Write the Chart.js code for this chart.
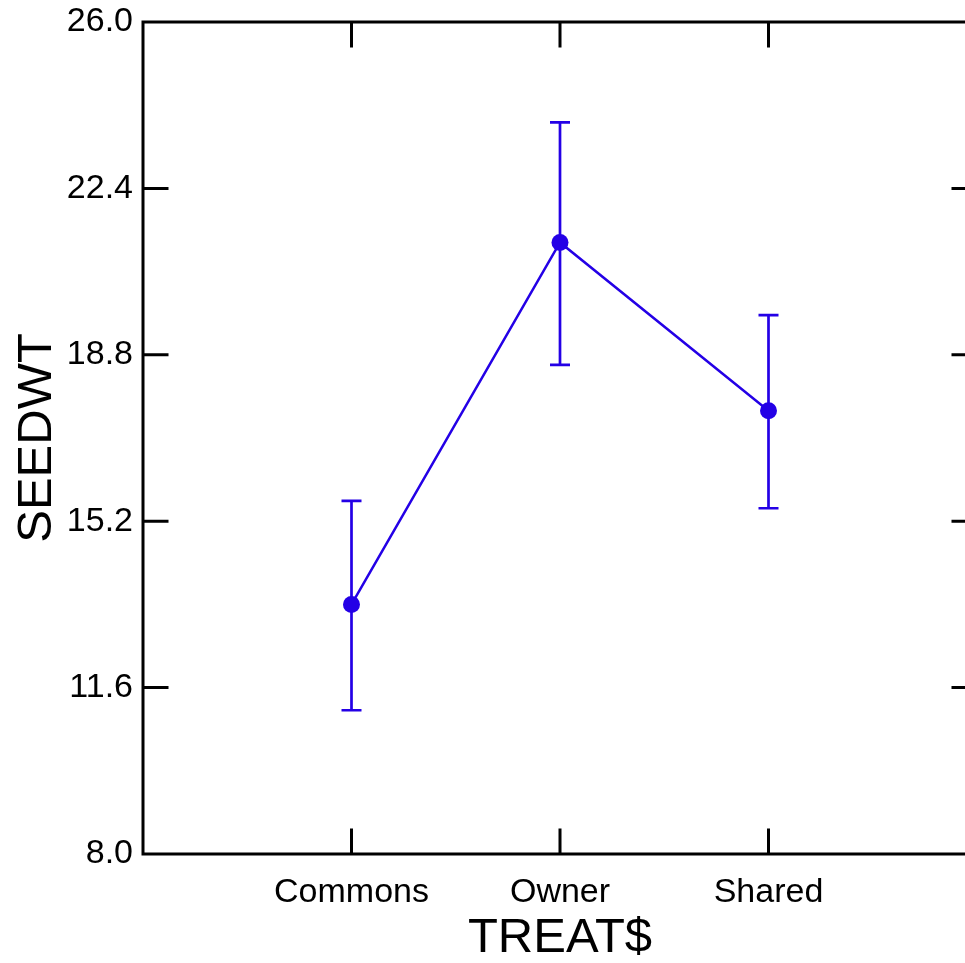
<!DOCTYPE html>
<html><head><meta charset="utf-8">
<script src="https://cdn.jsdelivr.net/npm/chart.js@4.4.0/dist/chart.umd.min.js"></script>
<style>
html,body{margin:0;padding:0;overflow:hidden;background:#fff;width:965px;height:963px}
#wrap{position:absolute;left:0;top:0;width:1000px;height:963px}
</style></head>
<body><div id="wrap"><canvas id="c" width="1000" height="963"></canvas></div>
<script>
const categories = ['Commons', 'Owner', 'Shared'];
const positions = [1, 2, 3];
const means = [13.40, 21.23, 17.59];
const upper = [15.64, 23.83, 19.66];
const lower = [11.11, 18.58, 15.48];
const yTicks = [8.0, 11.6, 15.2, 18.8, 22.4, 26.0];

const COLOR = '#2400E6';
const FONT = "'Liberation Sans', Arial, sans-serif";

const errorBars = {
  id: 'errorBars',
  beforeDatasetsDraw(chart) {
    const {ctx, scales: {x, y}} = chart;
    ctx.save();
    ctx.strokeStyle = COLOR;
    ctx.lineWidth = 2.7;
    positions.forEach((p, i) => {
      const px = x.getPixelForValue(p);
      const yt = y.getPixelForValue(upper[i]);
      const yb = y.getPixelForValue(lower[i]);
      ctx.beginPath();
      ctx.moveTo(px, yt); ctx.lineTo(px, yb);
      ctx.moveTo(px - 10, yt); ctx.lineTo(px + 10, yt);
      ctx.moveTo(px - 10, yb); ctx.lineTo(px + 10, yb);
      ctx.stroke();
    });
    ctx.restore();
  }
};

const frame = {
  id: 'frame',
  beforeDatasetsDraw(chart) {
    const {ctx, chartArea: a, scales: {x, y}} = chart;
    const TL = 24;
    ctx.save();
    ctx.strokeStyle = '#000';
    ctx.lineWidth = 3;
    ctx.lineCap = 'square';
    ctx.beginPath();
    ctx.moveTo(a.left, a.top); ctx.lineTo(a.left, a.bottom);
    ctx.lineTo(a.right, a.bottom); ctx.lineTo(a.right, a.top); ctx.closePath();
    yTicks.forEach(v => {
      const py = y.getPixelForValue(v);
      ctx.moveTo(a.left, py); ctx.lineTo(a.left + TL, py);
      ctx.moveTo(a.right, py); ctx.lineTo(a.right - TL, py);
    });
    positions.forEach(v => {
      const px = x.getPixelForValue(v);
      ctx.moveTo(px, a.top); ctx.lineTo(px, a.top + TL);
      ctx.moveTo(px, a.bottom); ctx.lineTo(px, a.bottom - TL);
    });
    ctx.stroke();
    ctx.restore();
  }
};

new Chart(document.getElementById('c'), {
  type: 'line',
  data: {
    datasets: [{
      data: positions.map((p, i) => ({x: p, y: means[i]})),
      borderColor: COLOR,
      backgroundColor: COLOR,
      borderWidth: 2.5,
      pointRadius: 8.5,
      pointBackgroundColor: COLOR,
      pointBorderWidth: 0,
      tension: 0,
      fill: false
    }]
  },
  options: {
    responsive: false,
    animation: false,
    layout: {padding: {top: 22, right: 23, left: 0, bottom: 0}},
    plugins: {legend: {display: false}, tooltip: {enabled: false}},
    scales: {
      x: {
        type: 'linear', min: 0, max: 4,
        afterBuildTicks: s => { s.ticks = positions.map(v => ({value: v})); },
        afterFit: s => { s.height = 109; s.paddingLeft = 0; s.paddingRight = 0; },
        grid: {display: false, drawTicks: false},
        border: {display: false},
        ticks: {
          callback: v => categories[positions.indexOf(v)],
          font: {family: FONT, size: 34},
          color: '#000', padding: 18, maxRotation: 0, autoSkip: false
        },
        title: {display: true, text: 'TREAT$', color: '#000',
          font: {family: FONT, size: 49, lineHeight: 1.0}, padding: {top: 0, bottom: 0}}
      },
      y: {
        min: 8, max: 26,
        afterBuildTicks: s => { s.ticks = yTicks.map(v => ({value: v})); },
        afterFit: s => { s.width = 143; s.paddingTop = 0; s.paddingBottom = 0; },
        grid: {display: false, drawTicks: false},
        border: {display: false},
        ticks: {
          callback: v => Number(v).toFixed(1),
          font: {family: FONT, size: 34},
          color: '#000', padding: 10
        },
        title: {display: true, text: 'SEEDWT', color: '#000',
          font: {family: FONT, size: 49}, padding: {top: 8, bottom: 0}}
      }
    }
  },
  plugins: [frame, errorBars]
});
</script>
</body></html>
